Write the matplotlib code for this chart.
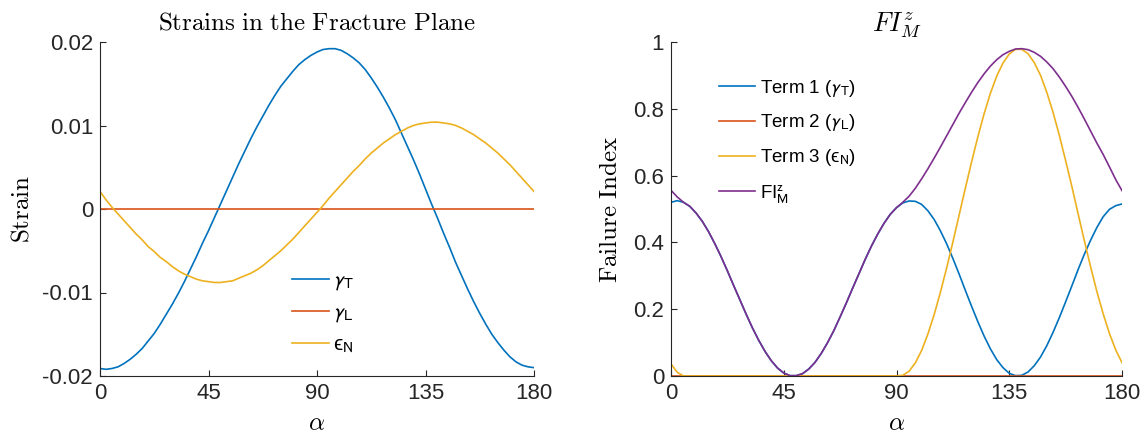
import numpy as np
import matplotlib
matplotlib.use('Agg')
import matplotlib.pyplot as plt
from matplotlib.ticker import FormatStrFormatter

# fracture plane angle (deg), every 2.5 deg
alpha = [0, 2.5, 5, 7.5, 10, 12.5, 15, 17.5, 20, 22.5, 25, 27.5, 30, 32.5, 35, 37.5, 40, 42.5, 45,
         47.5, 50, 52.5, 55, 57.5, 60, 62.5, 65, 67.5, 70, 72.5, 75, 77.5, 80, 82.5, 85, 87.5, 90,
         92.5, 95, 97.5, 100, 102.5, 105, 107.5, 110, 112.5, 115, 117.5, 120, 122.5, 125, 127.5, 130, 132.5, 135,
         137.5, 140, 142.5, 145, 147.5, 150, 152.5, 155, 157.5, 160, 162.5, 165, 167.5, 170, 172.5, 175, 177.5, 180]

# strains
gamma_T = [-0.0191, -0.0192, -0.0191, -0.0189, -0.0185, -0.0180, -0.0174, -0.0167, -0.0158, -0.0149,
           -0.0138, -0.0126, -0.0114, -0.0101, -0.0087, -0.0072, -0.0057, -0.0041, -0.0026,
           -0.0010, 0.0006, 0.0022, 0.0038, 0.0054, 0.0069, 0.0084, 0.0098, 0.0111, 0.0124,
           0.0136, 0.0147, 0.0156, 0.0165, 0.0173, 0.0179, 0.0184, 0.0188,
           0.0191, 0.0192, 0.0192, 0.0190, 0.0186, 0.0181, 0.0175, 0.0167, 0.0157, 0.0146,
           0.0134, 0.0121, 0.0107, 0.0091, 0.0075, 0.0059, 0.0042, 0.0024,
           0.0006, -0.0011, -0.0029, -0.0046, -0.0064, -0.0080, -0.0096, -0.0111, -0.0125, -0.0138,
           -0.0150, -0.0160, -0.0169, -0.0177, -0.0183, -0.0187, -0.0189, -0.0190]
gamma_L = [0.0] * len(alpha)
eps_N = [0.0021, 0.0011, 0.0002, -0.0006, -0.0014, -0.0022, -0.0030, -0.0037, -0.0045, -0.0051,
         -0.0058, -0.0063, -0.0069, -0.0074, -0.0078, -0.0081, -0.0084, -0.0086, -0.0087,
         -0.0088, -0.0088, -0.0087, -0.0086, -0.0083, -0.0080, -0.0077, -0.0073, -0.0068, -0.0062,
         -0.0056, -0.0050, -0.0043, -0.0036, -0.0028, -0.0020, -0.0012, -0.0004,
         0.0004, 0.0013, 0.0021, 0.0029, 0.0037, 0.0045, 0.0052, 0.0060, 0.0067, 0.0073,
         0.0079, 0.0084, 0.0089, 0.0093, 0.0097, 0.0100, 0.0102, 0.0103,
         0.0104, 0.0104, 0.0103, 0.0102, 0.0100, 0.0097, 0.0093, 0.0089, 0.0084, 0.0079,
         0.0073, 0.0067, 0.0060, 0.0053, 0.0045, 0.0037, 0.0029, 0.0021]

# failure index terms
term1 = [0.520, 0.525, 0.520, 0.508, 0.488, 0.463, 0.432, 0.396, 0.357, 0.315,
         0.271, 0.228, 0.185, 0.144, 0.107, 0.074, 0.046, 0.024, 0.009,
         0.001, 0.001, 0.007, 0.021, 0.041, 0.068, 0.100, 0.136, 0.177, 0.219,
         0.263, 0.306, 0.349, 0.389, 0.425, 0.457, 0.484, 0.504,
         0.518, 0.524, 0.523, 0.514, 0.495, 0.469, 0.435, 0.396, 0.352, 0.305,
         0.256, 0.208, 0.162, 0.119, 0.081, 0.049, 0.025, 0.008,
         0.001, 0.002, 0.012, 0.031, 0.057, 0.091, 0.131, 0.175, 0.222, 0.270,
         0.319, 0.365, 0.407, 0.445, 0.477, 0.499, 0.510, 0.515]
term2 = [0.0] * len(alpha)
term3 = [0.036, 0.011, 0.0, 0.0, 0.0, 0.0, 0.0, 0.0, 0.0, 0.0,
         0.0, 0.0, 0.0, 0.0, 0.0, 0.0, 0.0, 0.0, 0.0,
         0.0, 0.0, 0.0, 0.0, 0.0, 0.0, 0.0, 0.0, 0.0, 0.0,
         0.0, 0.0, 0.0, 0.0, 0.0, 0.0, 0.0, 0.0,
         0.002, 0.014, 0.039, 0.076, 0.125, 0.183, 0.250, 0.323, 0.401, 0.482,
         0.563, 0.642, 0.717, 0.786, 0.847, 0.898, 0.937, 0.964,
         0.978, 0.978, 0.965, 0.938, 0.900, 0.849, 0.789, 0.720, 0.645, 0.567,
         0.485, 0.404, 0.326, 0.252, 0.186, 0.127, 0.078, 0.040]
fi_total = [0.556, 0.536, 0.520, 0.508, 0.488, 0.463, 0.432, 0.396, 0.357, 0.315,
            0.271, 0.228, 0.185, 0.144, 0.107, 0.074, 0.046, 0.024, 0.009,
            0.001, 0.001, 0.007, 0.021, 0.041, 0.068, 0.100, 0.136, 0.177, 0.219,
            0.263, 0.306, 0.349, 0.389, 0.425, 0.457, 0.484, 0.504,
            0.520, 0.538, 0.562, 0.590, 0.620, 0.652, 0.685, 0.719, 0.753, 0.787,
            0.819, 0.850, 0.879, 0.905, 0.928, 0.947, 0.962, 0.972,
            0.979, 0.980, 0.977, 0.969, 0.957, 0.940, 0.920, 0.895, 0.867, 0.837,
            0.804, 0.769, 0.733, 0.697, 0.663, 0.626, 0.588, 0.555]

xticks = [0, 45, 90, 135, 180]

c_blue = '#0072BD'
c_red = '#D95319'
c_yellow = '#EDB120'
c_purple = '#7E2F8E'
dark = '#262626'

plt.rcParams['font.family'] = ['Liberation Sans', 'DejaVu Sans']
plt.rcParams['axes.unicode_minus'] = False
plt.rcParams['mathtext.fontset'] = 'stixsans'

fig = plt.figure(figsize=(11.44, 4.34), dpi=100)
ax1 = fig.add_axes([100 / 1144, 58 / 434, 434 / 1144, 334 / 434])
ax2 = fig.add_axes([671 / 1144, 58 / 434, 451 / 1144, 334 / 434])


def style_axes(ax):
    for side in ['top', 'right']:
        ax.spines[side].set_visible(False)
    for side in ['left', 'bottom']:
        ax.spines[side].set_color(dark)
        ax.spines[side].set_linewidth(0.8)
    ax.tick_params(direction='in', length=4, width=0.8, colors=dark, labelsize=16, pad=5)
    ax.set_xlim(0, 180)
    ax.set_xticks(xticks)
    ax.set_xlabel(r'$\alpha$', fontsize=18, math_fontfamily='cm', labelpad=5)


lw = 1.2

# left panel: strains
ax1.plot(alpha, gamma_T, color=c_blue, lw=lw, label=r'$\gamma_\mathrm{T}$')
ax1.plot(alpha, gamma_L, color=c_red, lw=lw, label=r'$\gamma_\mathrm{L}$')
ax1.plot(alpha, eps_N, color=c_yellow, lw=lw, label='ϵ$_\\mathrm{N}$')
style_axes(ax1)
ax1.set_ylim(-0.02, 0.02)
ax1.set_yticks([-0.02, -0.01, 0, 0.01, 0.02])
ax1.yaxis.set_major_formatter(FormatStrFormatter('%g'))
ax1.set_title(r'$\mathrm{Strains\ in\ the\ Fracture\ Plane}$', fontsize=18, math_fontfamily='cm', pad=9)
ax1.set_ylabel(r'$\mathrm{Strain}$', fontsize=18, math_fontfamily='cm', labelpad=6)
ax1.legend(loc='upper left', bbox_to_anchor=(0.40, 0.37), frameon=False, fontsize=15,
           handlelength=1.75, handletextpad=0.2, labelspacing=0.5)

# right panel: failure index
ax2.plot(alpha, term1, color=c_blue, lw=lw, label=r'Term 1 ($\gamma_\mathrm{T}$)')
ax2.plot(alpha, term2, color=c_red, lw=lw, label=r'Term 2 ($\gamma_\mathrm{L}$)')
ax2.plot(alpha, term3, color=c_yellow, lw=lw, label='Term 3 (ϵ$_\\mathrm{N}$)')
ax2.plot(alpha, fi_total, color=c_purple, lw=lw, label=r'FI$_\mathrm{M}^\mathrm{z}$')
style_axes(ax2)
ax2.set_ylim(0, 1)
ax2.set_yticks([0, 0.2, 0.4, 0.6, 0.8, 1])
ax2.yaxis.set_major_formatter(FormatStrFormatter('%g'))
ax2.set_title(r'$FI_M^z$', fontsize=19, math_fontfamily='cm', pad=8)
ax2.set_ylabel(r'$\mathrm{Failure\ Index}$', fontsize=18, math_fontfamily='cm', labelpad=8)
ax2.legend(loc='upper left', bbox_to_anchor=(0.07, 0.94), frameon=False, fontsize=13.5,
           handlelength=1.9, handletextpad=0.25, labelspacing=0.75)

fig.savefig('out.png', dpi=100)
